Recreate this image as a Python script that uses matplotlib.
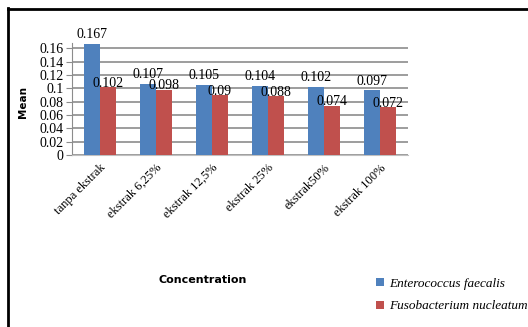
import matplotlib.pyplot as plt
import numpy as np
from matplotlib.lines import Line2D

categories = ['tanpa ekstrak', 'ekstrak 6,25%', 'ekstrak 12,5%', 'ekstrak 25%', 'ekstrak50%', 'ekstrak 100%']
faecalis = [0.167, 0.107, 0.105, 0.104, 0.102, 0.097]
nucleatum = [0.102, 0.098, 0.09, 0.088, 0.074, 0.072]
yticks = [0, 0.02, 0.04, 0.06, 0.08, 0.1, 0.12, 0.14, 0.16]
ytick_labels = ['0', '0.02', '0.04', '0.06', '0.08', '0.1', '0.12', '0.14', '0.16']

W, H = 528, 327
fig = plt.figure(figsize=(W / 100, H / 100), dpi=100)
ax = fig.add_axes([72 / W, 1 - 155 / H, (408 - 72) / W, (155 - 43) / H])

x = np.arange(len(categories))
w = 0.28
b1 = ax.bar(x - w / 2, faecalis, w, color='#4f81bd', label='Enterococcus faecalis', zorder=3)
b2 = ax.bar(x + w / 2, nucleatum, w, color='#c0504d', label='Fusobacterium nucleatum', zorder=3)

for i in range(len(categories)):
    ax.text(x[i] - w / 2, faecalis[i] + 0.004, str(faecalis[i]), ha='center', va='bottom',
            fontsize=10, family='Liberation Serif', zorder=4)
    ax.text(x[i] + w / 2, nucleatum[i] - 0.004, str(nucleatum[i]), ha='center', va='bottom',
            fontsize=10, family='Liberation Serif', zorder=4)

ax.set_xlim(-0.5, len(categories) - 0.5)
ax.set_ylim(0, 0.168)
ax.set_yticks(yticks)
ax.set_yticklabels(ytick_labels, family='Liberation Serif', fontsize=10)
ax.yaxis.grid(True, color='#8c8c8c', linewidth=1.2, zorder=0)
ax.set_xticks(x)
ax.set_xticklabels(categories, rotation=45, ha='right', rotation_mode='anchor',
                   family='Liberation Serif', fontsize=9)
ax.tick_params(axis='x', length=0, pad=5)
ax.tick_params(axis='y', length=4, color='#8c8c8c', pad=2)
for s in ['top', 'right']:
    ax.spines[s].set_visible(False)
ax.spines['left'].set_color('#8c8c8c')
ax.spines['bottom'].set_color('#c0c0c0')

fig.text(23 / W, 1 - 102 / H, 'Mean', rotation=90, ha='center', va='center',
         fontsize=7.5, fontweight='bold')
fig.text(203 / W, 1 - 280 / H, 'Concentration', ha='center', va='center',
         fontsize=8, fontweight='bold')

leg = fig.legend(handles=[b1, b2], loc='upper left', bbox_to_anchor=(364 / W, 1 - 266 / H),
                 frameon=False, handlelength=0.6, handleheight=0.6, handletextpad=0.4,
                 labelspacing=0.8, prop={'family': 'Liberation Serif', 'style': 'italic', 'size': 9.5})

fig.add_artist(Line2D([7.5 / W, 7.5 / W], [0, 1 - 8 / H], transform=fig.transFigure, color='black', linewidth=2))
fig.add_artist(Line2D([7.5 / W, 1], [1 - 9 / H, 1 - 9 / H], transform=fig.transFigure, color='black', linewidth=2))

fig.savefig('out.png', dpi=100)
